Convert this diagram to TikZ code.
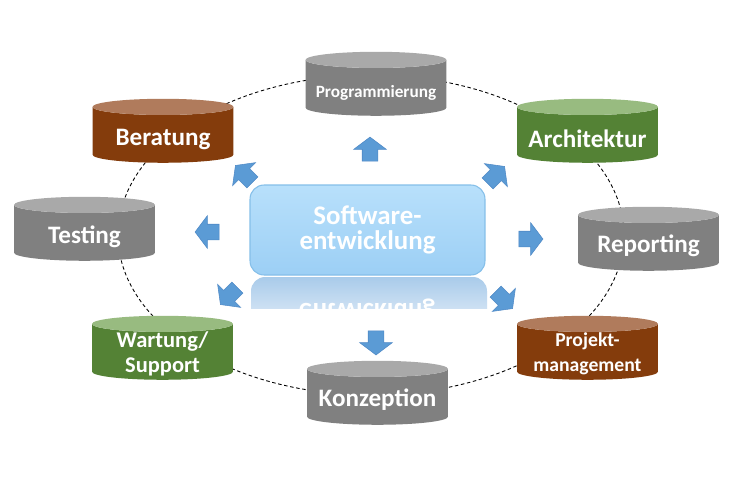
\documentclass[tikz,border=0pt]{standalone}
\usepackage{fontspec}
\setmainfont{Carlito}
\usetikzlibrary{shapes.geometric,shapes.arrows}
\definecolor{cgray}{HTML}{808080}
\definecolor{cgraytop}{HTML}{A9A9A9}
\definecolor{cbrown}{HTML}{843C0C}
\definecolor{cbrowntop}{HTML}{B07B5C}
\definecolor{cgreen}{HTML}{548235}
\definecolor{cgreentop}{HTML}{98BB80}
\definecolor{boxtop}{HTML}{B8E0FB}
\definecolor{boxbot}{HTML}{9CCFF5}
\definecolor{boxline}{HTML}{85BFE9}
\definecolor{refltop}{HTML}{A9CBEA}
\definecolor{reflbot}{HTML}{E6EFF9}
\definecolor{arrowblue}{HTML}{5B9BD5}
\definecolor{arrowline}{HTML}{4F89C6}
\newcommand{\cylfill}{\hspace*{2.7cm}\strut}
\tikzset{
  cyl/.style={cylinder, shape border rotate=90, aspect=0.12, minimum width=2.82cm,
    minimum height=1.28cm, cylinder uses custom fill, inner sep=0pt,
    font=\fontsize{13}{14}\selectfont},
  graycyl/.style={cyl, cylinder body fill=cgray, cylinder end fill=cgraytop},
  browncyl/.style={cyl, cylinder body fill=cbrown, cylinder end fill=cbrowntop},
  greencyl/.style={cyl, cylinder body fill=cgreen, cylinder end fill=cgreentop},
  cyltext/.style={text=white, align=center, inner sep=0pt, font=\bfseries\fontsize{14.3}{14}\selectfont},
  blockarrow/.style={single arrow, fill=arrowblue, draw=arrowline, line width=0.3pt,
    minimum height=0.48cm, inner xsep=0.05cm, inner ysep=0.15cm,
    single arrow head extend=0.17cm, single arrow tip angle=106},
}
\begin{document}
\begin{tikzpicture}[x=0.02cm,y=-0.02cm]
	\useasboundingbox[fill=white] (0,0) rectangle (747,498);
	% ring behind the topics
	\draw[line width=0.5pt, dash pattern=on 2pt off 1.5pt] (371,235) ellipse [x radius=5.06cm, y radius=3.2cm];
	% reflection of the centre box
	\begin{scope}
		\clip (250,277) rectangle (488,308);
		\shade[top color=refltop, bottom color=reflbot, rounded corners=8pt] (251,277) rectangle (487,330);
		\node[text=white, yscale=-1, font=\bfseries\fontsize{15.3}{14}\selectfont] (refl) at (367,311) {entwicklung};
	\end{scope}
	\node[rounded corners=8pt, top color=boxtop, bottom color=boxbot, draw=boxline, line width=0.6pt,
		minimum width=4.7cm, minimum height=1.8cm, text=white, align=center,
		font=\bfseries\fontsize{15.3}{14}\selectfont] (sw) at (367.5,230) {Software-\\entwicklung};
	% topics
	\node[graycyl] (prog) at (376,88) {\cylfill};
	\node[browncyl] (ber) at (163,135) {\cylfill};
	\node[graycyl] (test) at (84.5,233) {\cylfill};
	\node[greencyl] (arch) at (587.5,135) {\cylfill};
	\node[graycyl] (rep) at (648.5,243) {\cylfill};
	\node[browncyl] (proj) at (587.5,352) {\cylfill};
	\node[greencyl] (wart) at (162.5,352) {\cylfill};
	\node[graycyl] (konz) at (377.5,397) {\cylfill};
	\node[cyltext, font=\bfseries\fontsize{9.8}{11}\selectfont] (progT) at ([yshift=-0.1cm]prog.center) {Programmierung};
	\node[cyltext] (berT) at ([yshift=-0.08cm]ber.center) {Beratung};
	\node[cyltext] (testT) at ([yshift=-0.08cm]test.center) {Testing};
	\node[cyltext] (archT) at ([yshift=-0.08cm]arch.center) {Architektur};
	\node[cyltext] (repT) at ([yshift=-0.06cm]rep.center) {Reporting};
	\node[cyltext, font=\bfseries\fontsize{11.2}{14}\selectfont] (projT) at ([yshift=-0.04cm]proj.center) {Projekt-\\management};
	\node[cyltext, font=\bfseries\fontsize{12.8}{14}\selectfont] (wartT) at ([yshift=-0.04cm]wart.center) {Wartung/\\Support};
	\node[cyltext] (konzT) at ([yshift=-0.06cm]konz.center) {Konzeption};
	% arrows
	\node[blockarrow, rotate=90] (aprog) at (370,152) {};
	\node[blockarrow, rotate=135] (aber) at (246,176) {};
	\node[blockarrow, rotate=180] (atest) at (210,232) {};
	\node[blockarrow, rotate=45] (aarch) at (494,177) {};
	\node[blockarrow] (arep) at (528,239) {};
	\node[blockarrow, rotate=-45] (aproj) at (502,298) {};
	\node[blockarrow, rotate=-135] (awart) at (231,294) {};
	\node[blockarrow, rotate=-90] (akonz) at (376,340) {};
\end{tikzpicture}
\end{document}
